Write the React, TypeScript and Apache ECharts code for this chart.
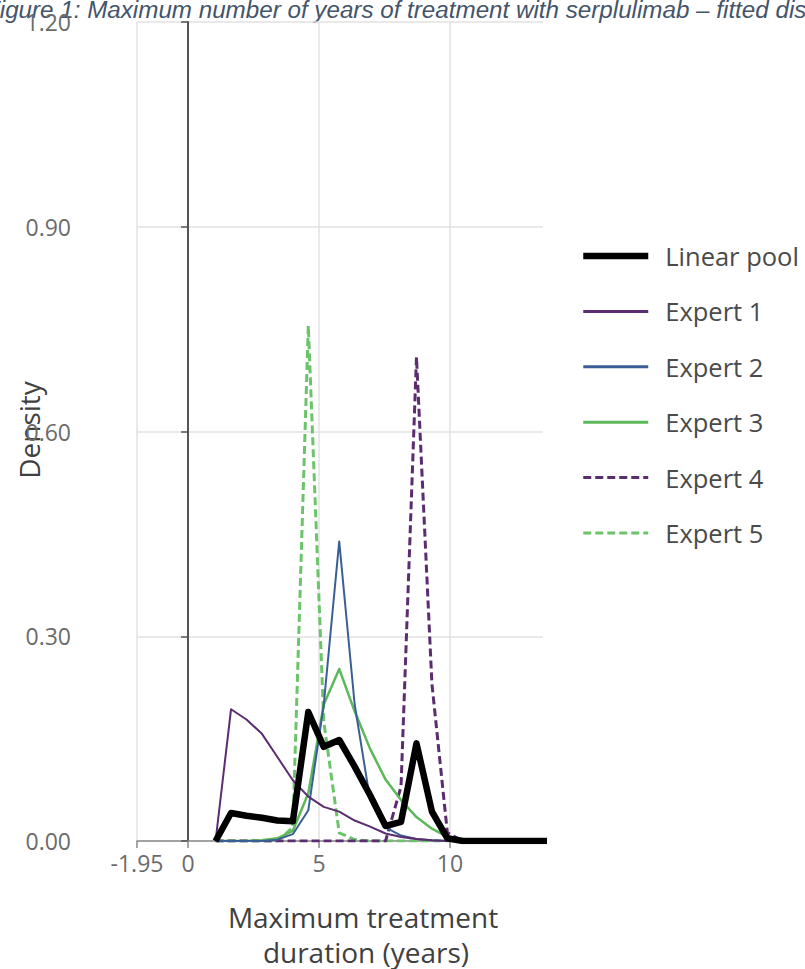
import React, { useEffect, useRef } from "react";
import * as echarts from "echarts";

// Shared x grid (years)
const xGrid = [1.05, 1.64, 2.23, 2.82, 3.41, 4.0, 4.59, 5.18, 5.77, 6.36, 6.95, 7.54, 8.13, 8.72, 9.31, 9.9, 10.49, 11.08, 11.67, 12.26, 12.85, 13.44, 14.03];

const linearPool = [0.0, 0.041, 0.037, 0.034, 0.03, 0.029, 0.189, 0.138, 0.148, 0.109, 0.067, 0.022, 0.028, 0.143, 0.043, 0.004, 0, 0, 0, 0, 0, 0, 0];
const expert1 = [0.0, 0.193, 0.178, 0.157, 0.123, 0.089, 0.065, 0.05, 0.043, 0.03, 0.021, 0.011, 0.006, 0.003, 0.001, 0, 0, 0, 0, 0, 0, 0, 0];
const expert2 = [0, 0, 0, 0, 0.002, 0.01, 0.045, 0.2, 0.439, 0.2, 0.06, 0.02, 0.008, 0.003, 0.001, 0, 0, 0, 0, 0, 0, 0, 0];
const expert3 = [0, 0, 0, 0.001, 0.004, 0.015, 0.07, 0.2, 0.252, 0.19, 0.135, 0.09, 0.06, 0.035, 0.018, 0.006, 0.001, 0, 0, 0, 0, 0, 0];
const expert4 = [0, 0, 0, 0, 0, 0, 0, 0, 0, 0, 0, 0, 0.08, 0.709, 0.23, 0.012, 0, 0, 0, 0, 0, 0, 0];
const expert5 = [0, 0, 0, 0, 0, 0.02, 0.755, 0.175, 0.012, 0.002, 0, 0, 0, 0, 0, 0, 0, 0, 0, 0, 0, 0, 0];

const seriesNames = ["Linear pool", "Expert 1", "Expert 2", "Expert 3", "Expert 4", "Expert 5"];
const xTickValues = [-1.95, 0, 5, 10];
const xMin = -1.95;
const xMax = 13.55;
const yMin = 0;
const yMax = 1.2;
const yInterval = 0.3;

const FONT = "'Open Sans', 'Noto Sans', sans-serif";

export default function App() {
  const ref = useRef<HTMLDivElement>(null);
  useEffect(() => {
    document.body.style.margin = "0";
    const chart = echarts.init(ref.current!, null, { renderer: "svg" });
    const pts = (ys: number[]) => xGrid.map((x, i) => [x, ys[i]]);
    const colors = ["#000000", "#5B2C6F", "#3A5E96", "#5DB85A", "#5B2C6F", "#6CC46A"];
    const widths = [6.5, 2, 2, 2.5, 3, 3];
    const types: any[] = ["solid", "solid", "solid", "solid", [8, 4], [8, 4]];
    const datas = [linearPool, expert1, expert2, expert3, expert4, expert5];
    const order = [5, 4, 3, 2, 1, 0];
    const series = order.map((k) => ({
      name: seriesNames[k],
      type: "line",
      data: pts(datas[k]),
      symbol: "none",
      showSymbol: false,
      z: k === 0 ? 10 : 3,
      lineStyle: { color: colors[k], width: widths[k], type: types[k], join: "round" },
      itemStyle: { color: colors[k] },
      emphasis: { disabled: true },
    }));
    chart.setOption({
      animation: false,
      backgroundColor: "#ffffff",
      grid: { left: 137, top: 22, width: 406, height: 819, containLabel: false },
      xAxis: {
        type: "value",
        min: xMin,
        max: xMax,
        axisLine: { show: true, onZero: true, lineStyle: { color: "#8a8a8a", width: 1.5 } },
        axisTick: { show: true, length: 7, customValues: xTickValues, lineStyle: { color: "#8a8a8a", width: 1.5 } },
        axisLabel: {
          customValues: xTickValues,
          margin: 10,
          fontSize: 23,
          fontFamily: FONT,
          color: "#6b6b6b",
          formatter: (v: number) => String(v),
        },
        splitLine: { show: true, lineStyle: { color: "#e2e2e2", width: 1.5 } },
      },
      yAxis: {
        type: "value",
        min: yMin,
        max: yMax,
        interval: yInterval,
        axisLine: { show: true, onZero: true, lineStyle: { color: "#555555", width: 2 } },
        axisTick: { show: true, length: 7, inside: false, lineStyle: { color: "#555555", width: 1.5 } },
        axisLabel: {
          margin: 66,
          fontSize: 23,
          fontFamily: FONT,
          color: "#6b6b6b",
          formatter: (v: number) => v.toFixed(2),
        },
        splitLine: { show: true, lineStyle: { color: "#e2e2e2", width: 1.5 } },
      },
      legend: {
        orient: "vertical",
        left: 575,
        top: 238,
        itemWidth: 65,
        itemHeight: 14,
        itemGap: 29.4,
        selectedMode: false,
        itemStyle: { opacity: 0, borderWidth: 0 },
        textStyle: { fontSize: 25.5, lineHeight: 25, fontFamily: FONT, color: "#4a4a4a", padding: [0, 0, 0, 12] },
        data: seriesNames.map((n, k) => ({
          name: n,
          itemStyle: { opacity: 0, borderWidth: 0 },
          lineStyle: { color: colors[k], width: k === 0 ? 6.5 : 3, type: types[k], opacity: 1 },
        })),
      },
      graphic: [
        {
          type: "text",
          x: -15,
          y: -3,
          style: {
            text: "Figure 1: Maximum number of years of treatment with serplulimab \u2013 fitted distributions",
            fontSize: 24.2,
            fontStyle: "italic",
            fontFamily: "'Liberation Sans', Arial, sans-serif",
            fill: "#44546A",
          },
        },
        {
          type: "text",
          x: 29,
          y: 430,
          rotation: Math.PI / 2,
          style: { text: "Density", fontSize: 28, fontFamily: FONT, fill: "#404040", align: "center", verticalAlign: "middle" },
        },
        {
          type: "text",
          x: 363,
          y: 917,
          style: { text: "Maximum treatment", fontSize: 28, lineHeight: 30, fontFamily: FONT, fill: "#404040", align: "center", verticalAlign: "middle" },
        },
        {
          type: "text",
          x: 366,
          y: 952,
          style: { text: "duration (years)", fontSize: 28, lineHeight: 30, fontFamily: FONT, fill: "#404040", align: "center", verticalAlign: "middle" },
        },
      ],
      series,
    });
    return () => chart.dispose();
  }, []);
  return <div ref={ref} style={{ width: 805, height: 969 }} />;
}
